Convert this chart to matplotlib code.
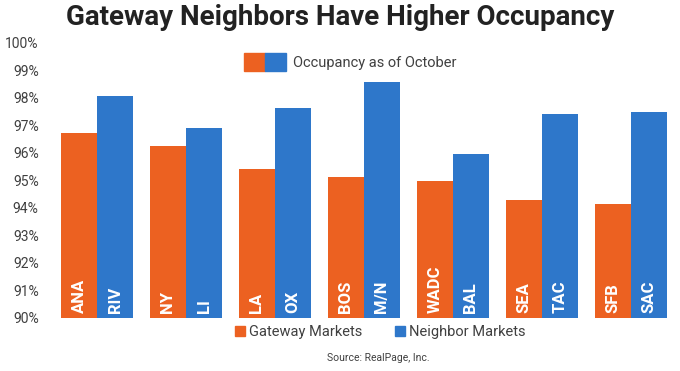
import matplotlib.pyplot as plt
import matplotlib.patches as mpatches
from matplotlib.legend_handler import HandlerTuple
import numpy as np

# data
gateway = ["ANA", "NY", "LA", "BOS", "WADC", "SEA", "SFB"]
neighbor = ["RIV", "LI", "OX", "M/N", "BAL", "TAC", "SAC"]
gateway_occ = [96.73, 96.25, 95.42, 95.13, 94.98, 94.29, 94.15]
neighbor_occ = [98.07, 96.91, 97.64, 98.58, 95.96, 97.42, 97.49]
y_ticks = list(range(90, 101))

orange = "#EC6121"
blue = "#2E77CA"

plt.rcParams['font.family'] = ['Roboto', 'DejaVu Sans']

fig = plt.figure(figsize=(6.8, 3.71), dpi=100)
ax = fig.add_axes([0.0774, 0.1429, 0.9156, 0.7412])

x = np.arange(len(gateway))
w = 0.406
b1 = ax.bar(x - w / 2, np.array(gateway_occ) - 90, w, bottom=90, color=orange)
b2 = ax.bar(x + w / 2, np.array(neighbor_occ) - 90, w, bottom=90, color=blue)

for i in range(len(gateway)):
    ax.text(x[i] - w / 2, 90.18, gateway[i], rotation=90, ha='center', va='bottom',
            color='white', fontsize=12, fontweight='bold')
    ax.text(x[i] + w / 2, 90.18, neighbor[i], rotation=90, ha='center', va='bottom',
            color='white', fontsize=12, fontweight='bold')

ax.set_ylim(90, 100)
ax.set_xlim(-0.5, len(gateway) - 0.5)
ax.set_yticks(y_ticks)
ax.set_yticklabels([f"{t}%" for t in y_ticks], fontsize=10, color='#404040')
ax.set_xticks([])
ax.tick_params(axis='y', length=0, pad=10)
for s in ax.spines.values():
    s.set_visible(False)

# top legend: combined handle
p1 = mpatches.Patch(color=orange)
p2 = mpatches.Patch(color=blue)
fig.legend([(p1, p2)], ["Occupancy as of October"],
           handler_map={tuple: HandlerTuple(ndivide=None, pad=0)},
           loc='center', bbox_to_anchor=(0.515, 0.833), frameon=False,
           fontsize=10.5, handlelength=2.9, handleheight=1.5, handletextpad=0.5,
           labelcolor='#404040')

# bottom legend
fig.legend([mpatches.Patch(color=orange), mpatches.Patch(color=blue)],
           ["Gateway Markets", "Neighbor Markets"],
           loc='center', bbox_to_anchor=(0.559, 0.105), ncol=2, frameon=False,
           fontsize=10.5, handlelength=0.7, handleheight=0.7, handletextpad=0.3,
           columnspacing=2.2, labelcolor='#404040')

fig.text(0.5, 0.953, "Gateway Neighbors Have Higher Occupancy", ha='center', va='center',
         fontsize=20, fontweight='bold', color='#222222')
fig.text(0.556, 0.035, "Source: RealPage, Inc.", ha='center', va='center',
         fontsize=7.5, color='#404040')

fig.savefig("out.png", dpi=100)
